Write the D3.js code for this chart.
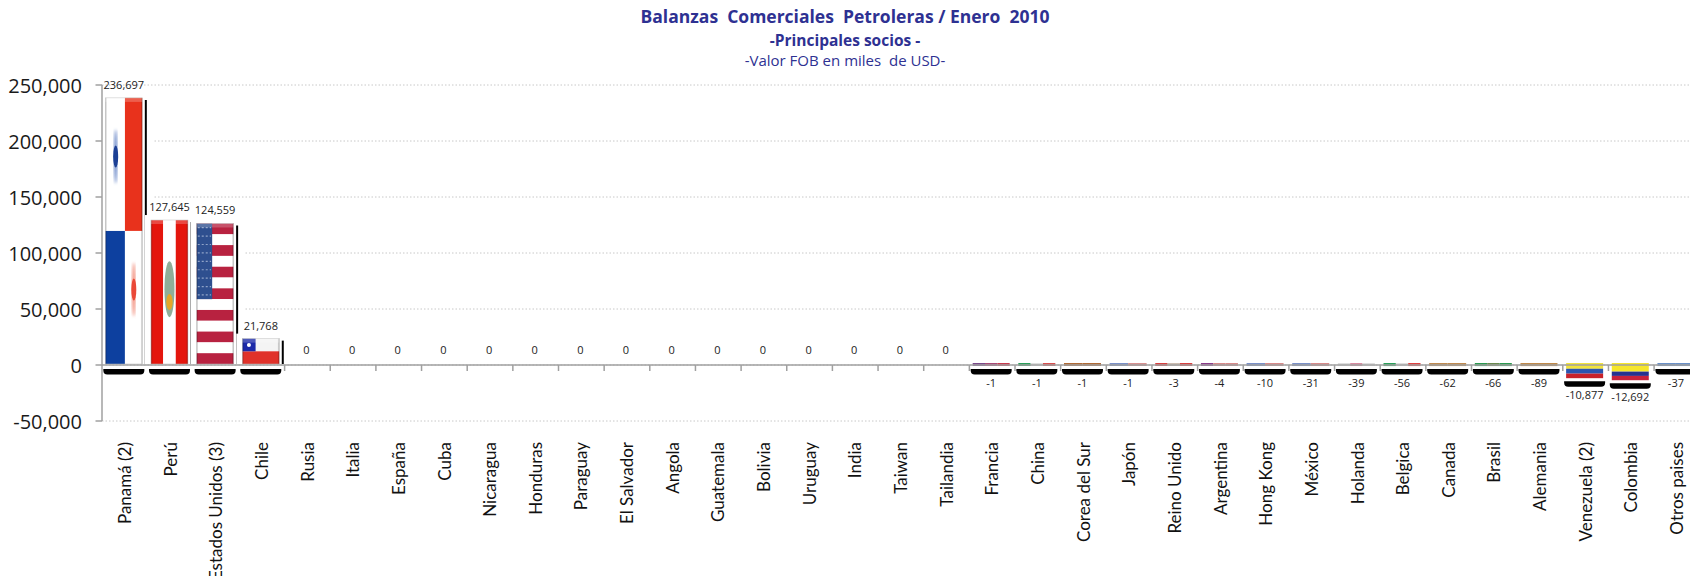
<!DOCTYPE html>
<html>
<head>
<meta charset="utf-8">
<script src="https://cdn.jsdelivr.net/npm/d3@7"></script>
<style>
  html, body { margin: 0; padding: 0; background: #fff; overflow: hidden; }
  svg { display: block; }
  .title { fill: #2e3192; text-anchor: middle; font-family: "Open Sans", sans-serif; }
  .ytick { font-family: "Open Sans", sans-serif; font-size: 20px; fill: #1a1a1a; text-anchor: end; }
  .vlabel { font-family: "Open Sans", sans-serif; font-size: 11px; fill: #222; text-anchor: middle; }
  .cat { font-family: "Lato", sans-serif; font-size: 17px; fill: #111; text-anchor: end; }
</style>
</head>
<body>
<svg id="chart" width="1690" height="576"></svg>
<script>
// values
const categories = ['Panamá (2)', 'Perú', 'Estados Unidos (3)', 'Chile', 'Rusia', 'Italia', 'España', 'Cuba',
    'Nicaragua', 'Honduras', 'Paraguay', 'El Salvador', 'Angola', 'Guatemala', 'Bolivia', 'Uruguay', 'India',
    'Taiwan', 'Tailandia', 'Francia', 'China', 'Corea del Sur', 'Japón', 'Reino Unido', 'Argentina', 'Hong Kong',
    'México', 'Holanda', 'Belgica', 'Canada', 'Brasil', 'Alemania', 'Venezuela (2)', 'Colombia', 'Otros paises'];
const values = [236697, 127645, 124559, 21768, 0, 0, 0, 0, 0, 0, 0, 0, 0, 0, 0, 0, 0, 0, 0,
    -1, -1, -1, -1, -3, -4, -10, -31, -39, -56, -62, -66, -89, -10877, -12692, -37];
const yTicks = [-50000, 0, 50000, 100000, 150000, 200000, 250000];
const titleLines = ['Balanzas  Comerciales  Petroleras / Enero  2010', '-Principales socios -', '-Valor FOB en miles  de USD-'];

// colours of the squeezed flags on the tiny negative bars
const stripColors = {
    'Francia': ['#7a4a8a', '#a84a78', '#c93a50'],
    'China': ['#2aa05a', '#dddddd', '#d85050'],
    'Corea del Sur': ['#b06a35', '#b06a35'],
    'Japón': ['#7a90c8', '#d89090'],
    'Reino Unido': ['#d84040', '#cbbcb0', '#d84040'],
    'Argentina': ['#8a3a8a', '#d88a8a', '#d88a8a'],
    'Hong Kong': ['#7a90c8', '#d88a8a'],
    'México': ['#7a90c8', '#d88a8a'],
    'Holanda': ['#dddddd', '#d88aa0', '#dddddd'],
    'Belgica': ['#2aa05a', '#dddddd', '#e04040'],
    'Canada': ['#c08a50', '#c08a50'],
    'Brasil': ['#2a9a50', '#6a8a50', '#2a9a50'],
    'Alemania': ['#c0894a', '#c0894a'],
    'Otros paises': ['#6a90c8', '#6a90c8']
};

const width = 1690;
const height = 576;
const barWidth = 37;

let svg = d3.select('#chart');

let x = d3.scaleBand().domain(categories).range([102, 102 + 35 * 45.65]);
let y = d3.scaleLinear().domain([-50000, 250000]).range([421, 85]);

// d3 writes a real minus sign, the picture has a plain hyphen
let fmt = d => d3.format(',')(d).replace('\u2212', '-');

let defs = svg.append('defs');
defs.append('filter').attr('id', 'soft').append('feGaussianBlur').attr('stdDeviation', 0.7);
defs.append('filter').attr('id', 'softer').append('feGaussianBlur').attr('stdDeviation', 1.6);

// side shading of the glossy bars
let side = defs.append('linearGradient').attr('id', 'side');
[[0, '#000', 0.3], [0.05, '#000', 0], [0.95, '#000', 0], [1, '#000', 0.3]].forEach(s => {
    side.append('stop').attr('offset', s[0]).attr('stop-color', s[1]).attr('stop-opacity', s[2]);
});

// title
titleLines.forEach((t, i) => {
    svg.append('text').attr('class', 'title')
        .attr('x', 845).attr('y', [23, 46, 66][i])
        .attr('font-size', [17.5, 15.5, 15][i])
        .attr('font-weight', i < 2 ? 700 : 400)
        .style('white-space', 'pre')
        .text(t);
});

// gridlines
svg.append('g').selectAll('line').data(yTicks).join('line')
    .attr('x1', 102).attr('x2', width)
    .attr('y1', d => y(d)).attr('y2', d => y(d))
    .attr('stroke', '#c8c8c8').attr('stroke-width', 1).attr('stroke-dasharray', '1.5 2');

// y labels and axis
svg.append('g').selectAll('text').data(yTicks).join('text')
    .attr('class', 'ytick')
    .attr('x', 82).attr('y', d => y(d) + 1).attr('dy', '0.36em')
    .text(d => fmt(d));

let flags = {
    'Panamá (2)': (g, u, v) => {
        part(g, u, v, 0, 0, 0.53, 0.5, '#ffffff');
        part(g, u, v, 0.53, 0, 1, 0.5, '#e8321c');
        part(g, u, v, 0, 0.5, 0.53, 1, '#0f3f9f');
        part(g, u, v, 0.53, 0.5, 1, 1, '#ffffff');
        g.append('ellipse').attr('cx', u(0.28)).attr('cy', v(0.22)).attr('rx', 1.6).attr('ry', 27)
            .attr('fill', '#5f80c4').attr('filter', 'url(#softer)');
        g.append('ellipse').attr('cx', u(0.28)).attr('cy', v(0.22)).attr('rx', 2.5).attr('ry', 11)
            .attr('fill', '#1c3f95').attr('filter', 'url(#soft)');
        g.append('ellipse').attr('cx', u(0.77)).attr('cy', v(0.72)).attr('rx', 1.6).attr('ry', 27)
            .attr('fill', '#f0806c').attr('filter', 'url(#softer)');
        g.append('ellipse').attr('cx', u(0.77)).attr('cy', v(0.72)).attr('rx', 2.5).attr('ry', 11)
            .attr('fill', '#ea4a38').attr('filter', 'url(#soft)');
    },
    'Perú': (g, u, v) => {
        part(g, u, v, 0, 0, 0.33, 1, '#e4140e');
        part(g, u, v, 0.33, 0, 0.67, 1, '#ffffff');
        part(g, u, v, 0.67, 0, 1, 1, '#e4140e');
        g.append('ellipse').attr('cx', u(0.5)).attr('cy', v(0.48)).attr('rx', 5).attr('ry', 28)
            .attr('fill', '#8fae98').attr('filter', 'url(#soft)');
        g.append('ellipse').attr('cx', u(0.5)).attr('cy', v(0.57)).attr('rx', 3.2).attr('ry', 8)
            .attr('fill', '#e3a72a').attr('filter', 'url(#soft)');
    },
    'Estados Unidos (3)': (g, u, v) => {
        d3.range(13).forEach(i => {
            part(g, u, v, 0, i / 13, 1, (i + 1) / 13, i % 2 ? '#ffffff' : '#b8203f');
        });
        part(g, u, v, 0, 0, 0.42, 7 / 13, '#2f4f8f');
        d3.range(9).forEach(r => {
            g.append('line').attr('x1', u(0.03)).attr('x2', u(0.39))
                .attr('y1', v((r + 0.5) / 9 * 7 / 13)).attr('y2', v((r + 0.5) / 9 * 7 / 13))
                .attr('stroke', '#8fa3c8').attr('stroke-width', 1.2).attr('stroke-dasharray', '2 2');
        });
    },
    'Chile': (g, u, v) => {
        part(g, u, v, 0, 0, 1, 0.5, '#f4f4f4');
        part(g, u, v, 0, 0.5, 1, 1, '#e0322a');
        part(g, u, v, 0, 0, 0.36, 0.5, '#1a2aa8');
        g.append('circle').attr('cx', u(0.18)).attr('cy', v(0.25)).attr('r', 2).attr('fill', '#fff');
    },
    'Venezuela (2)': (g, u, v) => {
        part(g, u, v, 0, 0, 1, 0.38, '#f2e33a');
        part(g, u, v, 0, 0.38, 1, 0.7, '#2a55b0');
        part(g, u, v, 0, 0.7, 1, 1, '#c8202a');
    },
    'Colombia': (g, u, v) => {
        part(g, u, v, 0, 0, 1, 0.5, '#f6e62a');
        part(g, u, v, 0, 0.5, 1, 0.75, '#27308f');
        part(g, u, v, 0, 0.75, 1, 1, '#c8203a');
    }
};

function part(g, u, v, x0, y0, x1, y1, color) {
    g.append('rect')
        .attr('x', u(x0)).attr('y', v(y0))
        .attr('width', u(x1) - u(x0)).attr('height', v(y1) - v(y0))
        .attr('fill', color);
}

// black rounded "shadow" under a bar
function shadowPath(left, right, top, bottom) {
    let r = 4;
    return `M${left},${top}L${right},${top}L${right},${bottom - r}Q${right},${bottom} ${right - r},${bottom}` +
        `L${left + r},${bottom}Q${left},${bottom} ${left},${bottom - r}Z`;
}

let zero = y(0);

// bars: painted in order so a bar's white halo hides the neighbour's shadow line
categories.forEach((name, i) => {
    let value = values[i];
    if (value === 0) {
        return;
    }
    let left = x(name) + (x.bandwidth() - barWidth) / 2 - 1;
    let right = left + barWidth;
    let top = value > 0 ? y(value) - 2 : zero - 2;
    let bottom = value > 0 ? zero - 1 : y(value) + 1;

    let g = svg.append('g');

    if (value > 0) {
        g.append('rect')
            .attr('x', left - 6).attr('y', top - 5)
            .attr('width', barWidth + 17).attr('height', zero - top + 4)
            .attr('fill', '#fff');
        g.append('line')
            .attr('x1', right + 3.5).attr('x2', right + 3.5)
            .attr('y1', top + 2).attr('y2', bottom)
            .attr('stroke', '#000').attr('stroke-width', 2);
    }

    g.append('path')
        .attr('d', shadowPath(left - 2, right + 2, Math.max(y(value), zero) + 4, Math.max(y(value), zero) + 9.5))
        .attr('fill', '#000');

    let u = d3.scaleLinear().domain([0, 1]).range([left, right]);
    let v = d3.scaleLinear().domain([0, 1]).range([top, bottom]);

    let flag = g.append('g').attr('filter', 'url(#soft)');
    if (flags[name]) {
        flags[name](flag, u, v);
    } else {
        let colors = stripColors[name];
        colors.forEach((c, k) => {
            part(flag, u, v, k / colors.length, 0, (k + 1) / colors.length, 1, c);
        });
    }
    if (value > 0) {
        g.append('rect')
            .attr('x', left).attr('y', top).attr('width', barWidth).attr('height', bottom - top)
            .attr('fill', 'url(#side)')
            .attr('stroke', '#bbb').attr('stroke-width', 0.5);
        g.append('rect')
            .attr('x', left).attr('y', top).attr('width', barWidth).attr('height', Math.min(4, bottom - top))
            .attr('fill', '#fff').attr('opacity', 0.22);
    }
});

// x axis line and ticks, the ticks start at band edges
svg.append('line')
    .attr('x1', 102).attr('x2', width)
    .attr('y1', zero).attr('y2', zero)
    .attr('stroke', '#a0a0a0').attr('stroke-width', 1.5);
svg.append('g').selectAll('line').data(categories.slice(4)).join('line')
    .attr('x1', d => x(d)).attr('x2', d => x(d))
    .attr('y1', zero).attr('y2', zero + 6)
    .attr('stroke', '#a0a0a0').attr('stroke-width', 1.5);

// y axis line and ticks
svg.append('line')
    .attr('x1', 102).attr('x2', 102)
    .attr('y1', y(250000)).attr('y2', y(-50000))
    .attr('stroke', '#a0a0a0').attr('stroke-width', 1.5);
svg.append('g').selectAll('line').data(yTicks).join('line')
    .attr('x1', 95.5).attr('x2', 102)
    .attr('y1', d => y(d)).attr('y2', d => y(d))
    .attr('stroke', '#a0a0a0').attr('stroke-width', 1.5);

// value labels
svg.append('g').selectAll('text').data(categories).join('text')
    .attr('class', 'vlabel')
    .attr('x', d => x(d) + x.bandwidth() / 2 - 1)
    .attr('y', (d, i) => (values[i] >= 0 ? y(values[i]) - 15 : y(values[i]) + 18))
    .attr('dy', '0.36em')
    .text((d, i) => fmt(values[i]));

// category labels, hanging down from a fixed line
svg.append('g').selectAll('text').data(categories).join('text')
    .attr('class', 'cat')
    .attr('transform', d => `translate(${x(d) + x.bandwidth() / 2},442) rotate(-90)`)
    .attr('dy', '0.36em')
    .text(d => d);
</script>
</body>
</html>
